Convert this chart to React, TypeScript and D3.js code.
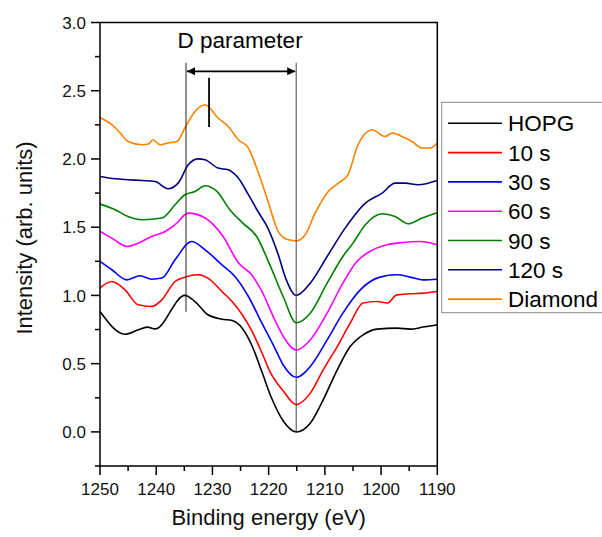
import React from "react";
import * as d3 from "d3";

const W = 602, H = 537;
const M = { left: 100, right: 437.3, top: 22.5, bottom: 466 };

const seriesNames = ["HOPG", "10 s", "30 s", "60 s", "90 s", "120 s", "Diamond"];
const seriesColors = ["#000000", "#ff0000", "#0000ff", "#ff00ff", "#008000", "#000080", "#ff8000"];

const hopgE = [1250, 1245.55, 1243.2, 1241.6, 1240.2, 1234.9, 1233.1, 1230.8, 1228.3, 1226.5, 1224.7, 1223.0, 1221.2, 1219.5, 1217.4, 1215.1, 1212.6, 1210.3, 1207.8, 1205.5, 1203.2, 1200.7, 1197.2, 1194.8, 1192.5, 1190];
const hopgV = [0.882, 0.716, 0.748, 0.768, 0.755, 1.0, 0.955, 0.858, 0.826, 0.816, 0.76, 0.635, 0.44, 0.25, 0.08, 0.0, 0.064, 0.235, 0.455, 0.625, 0.711, 0.753, 0.76, 0.753, 0.768, 0.784];

const s10E = [1250, 1247.9, 1245.55, 1243.2, 1240.8, 1239.0, 1236.65, 1234.9, 1232.6, 1230.8, 1228.3, 1226.5, 1224.7, 1223.0, 1221.2, 1219.75, 1217.4, 1215.1, 1212.6, 1210.3, 1207.8, 1205.5, 1203.2, 1200.7, 1198.9, 1197.2, 1194.8, 1192.5, 1190];
const s10V = [1.054, 1.102, 1.041, 0.931, 0.919, 0.968, 1.102, 1.134, 1.151, 1.127, 1.029, 0.955, 0.858, 0.74, 0.58, 0.44, 0.3, 0.2, 0.284, 0.455, 0.625, 0.797, 0.944, 0.955, 0.944, 1.004, 1.012, 1.017, 1.029];

const s30E = [1250, 1247.9, 1245.2, 1242.9, 1240.8, 1239.0, 1236.65, 1233.7, 1231.3, 1228.3, 1226.0, 1223.6, 1221.2, 1218.9, 1217.4, 1215.1, 1212.6, 1209.6, 1206.8, 1203.7, 1200.2, 1197.2, 1194.8, 1192.5, 1190];
const s30V = [1.249, 1.188, 1.114, 1.144, 1.119, 1.127, 1.261, 1.395, 1.334, 1.224, 1.139, 0.992, 0.797, 0.614, 0.49, 0.4, 0.479, 0.674, 0.87, 1.041, 1.134, 1.151, 1.134, 1.114, 1.119];

const s60E = [1250, 1247.9, 1245.2, 1243.2, 1240.8, 1238.4, 1236.65, 1234.3, 1231.3, 1228.1, 1225.4, 1223.0, 1221.2, 1218.9, 1217.4, 1215.1, 1212.6, 1209.6, 1206.8, 1204.3, 1202.0, 1198.9, 1196.1, 1193.1, 1190];
const s60V = [1.468, 1.42, 1.359, 1.383, 1.432, 1.468, 1.518, 1.603, 1.567, 1.432, 1.24, 1.15, 1.03, 0.82, 0.7, 0.6, 0.674, 0.87, 1.09, 1.249, 1.322, 1.371, 1.388, 1.395, 1.371];

const s90E = [1250, 1247.3, 1245.0, 1242.5, 1239.0, 1236.65, 1234.9, 1233.1, 1231.3, 1229.2, 1226.9, 1224.6, 1222.1, 1219.75, 1217.4, 1215.1, 1212.6, 1209.6, 1206.8, 1205.0, 1202.8, 1199.8, 1197.5, 1195.2, 1192.7, 1190];
const s90V = [1.669, 1.628, 1.578, 1.554, 1.567, 1.664, 1.738, 1.762, 1.804, 1.762, 1.628, 1.53, 1.43, 1.22, 0.99, 0.8, 0.87, 1.09, 1.285, 1.383, 1.518, 1.598, 1.578, 1.525, 1.567, 1.605];

const s120E = [1250, 1247.3, 1245.0, 1242.5, 1240.2, 1237.9, 1236.1, 1234.3, 1232.6, 1231.3, 1229.0, 1227.2, 1225.4, 1223.6, 1221.9, 1220.1, 1218.3, 1217.0, 1215.1, 1212.6, 1209.6, 1206.4, 1202.8, 1199.8, 1197.5, 1195.7, 1193.4, 1190];
const s120V = [1.872, 1.855, 1.848, 1.842, 1.835, 1.782, 1.823, 1.957, 2.001, 1.994, 1.933, 1.921, 1.86, 1.738, 1.615, 1.49, 1.3, 1.13, 1.0, 1.09, 1.285, 1.493, 1.677, 1.75, 1.823, 1.823, 1.811, 1.842];

const diaE = [1250, 1247.9, 1246.4, 1245.0, 1242.5, 1241.4, 1240.6, 1239.3, 1237.9, 1236.3, 1234.9, 1233.1, 1231.3, 1229.0, 1227.2, 1225.4, 1223.6, 1221.9, 1220.1, 1218.3, 1216.5, 1215.0, 1213.5, 1211.7, 1209.4, 1207.6, 1205.9, 1204.1, 1201.6, 1199.3, 1198.0, 1196.3, 1194.5, 1192.7, 1191.3, 1190];
const diaV = [2.304, 2.251, 2.19, 2.128, 2.104, 2.109, 2.141, 2.104, 2.117, 2.128, 2.227, 2.348, 2.397, 2.3, 2.238, 2.141, 2.08, 1.908, 1.688, 1.468, 1.408, 1.4, 1.444, 1.606, 1.762, 1.823, 1.884, 2.104, 2.214, 2.165, 2.19, 2.165, 2.128, 2.08, 2.08, 2.117];

const seriesE = [hopgE, s10E, s30E, s60E, s90E, s120E, diaE];
const seriesV = [hopgV, s10V, s30V, s60V, s90V, s120V, diaV];

const xMajorTicks = [1250, 1240, 1230, 1220, 1210, 1200, 1190];
const xMinorTicks = [1245, 1235, 1225, 1215, 1205, 1195];
const yMajorTicks = [0.0, 0.5, 1.0, 1.5, 2.0, 2.5, 3.0];
const yMinorTicks = [-0.25, 0.25, 0.75, 1.25, 1.75, 2.25, 2.75];

// annotation (data units)
const dLeftE = 1234.7, dRightE = 1215.1;
const dTopV = 2.705, dLeftBottomV = 0.88, dRightBottomV = 0.0;
const arrowV = 2.642;
const markE = 1230.6, markTopV = 2.595, markBottomV = 2.235;

export default function App() {
  const x = d3.scaleLinear().domain([1250, 1190]).range([M.left, M.right]);
  const y = d3.scaleLinear().domain([-0.25, 3.0]).range([M.bottom, M.top]);
  const line = d3.line<[number, number]>().x(d => x(d[0])).y(d => y(d[1])).curve(d3.curveMonotoneX);
  const font = "'Liberation Sans', Arial, sans-serif";
  const legY0 = 123.3, legDy = 29.3;
  const ay = y(arrowV);
  const xl = x(dLeftE), xr = x(dRightE);
  return (
    <svg width={W} height={H} style={{ position: "absolute", left: 0, top: 0, background: "#fff" }} fontFamily={font}>
      <defs>
        <marker id="ah" viewBox="0 0 10 10" refX="10" refY="5" markerWidth="6" markerHeight="5" orient="auto-start-reverse" markerUnits="strokeWidth">
          <path d="M0,0 L10,5 L0,10 z" fill="#000" />
        </marker>
      </defs>
      {seriesNames.map((n, i) => (
        <path key={n} d={line(seriesE[i].map((e, j) => [e, seriesV[i][j]]) as [number, number][]) || ""} fill="none" stroke={seriesColors[i]} strokeWidth={1.6} />
      ))}
      <line x1={xl} x2={xl} y1={y(dTopV)} y2={y(dLeftBottomV)} stroke="#222" strokeWidth={1} />
      <line x1={xr} x2={xr} y1={y(dTopV)} y2={y(dRightBottomV)} stroke="#444" strokeWidth={1} />
      <line x1={xl + 1} x2={xr - 1} y1={ay} y2={ay} stroke="#000" strokeWidth={1.6} markerStart="url(#ah)" markerEnd="url(#ah)" />
      <line x1={x(markE)} x2={x(markE)} y1={y(markTopV)} y2={y(markBottomV)} stroke="#000" strokeWidth={1.8} />
      <text x={(xl + xr) / 2 - 1} y={48} fontSize={22.5} textAnchor="middle" fill="#000">D parameter</text>
      <rect x={M.left} y={M.top} width={M.right - M.left} height={M.bottom - M.top} fill="none" stroke="#000" strokeWidth={1.5} />
      {xMajorTicks.map(t => (
        <g key={"xm" + t}>
          <line x1={x(t)} x2={x(t)} y1={M.bottom} y2={M.bottom + 9} stroke="#000" strokeWidth={1.5} />
          <text x={x(t)} y={495} fontSize={17} textAnchor="middle" fill="#111">{t}</text>
        </g>
      ))}
      {xMinorTicks.map(t => (
        <line key={"xn" + t} x1={x(t)} x2={x(t)} y1={M.bottom} y2={M.bottom + 5} stroke="#000" strokeWidth={1.5} />
      ))}
      {yMajorTicks.map(t => (
        <g key={"ym" + t}>
          <line x1={M.left - 9} x2={M.left} y1={y(t)} y2={y(t)} stroke="#000" strokeWidth={1.5} />
          <text x={86} y={y(t)} dy="0.36em" fontSize={17} textAnchor="end" fill="#111">{t.toFixed(1)}</text>
        </g>
      ))}
      {yMinorTicks.map(t => (
        <line key={"yn" + t} x1={M.left - 5} x2={M.left} y1={y(t)} y2={y(t)} stroke="#000" strokeWidth={1.5} />
      ))}
      <text x={(M.left + M.right) / 2} y={525} fontSize={22} textAnchor="middle" fill="#111">Binding energy (eV)</text>
      <text transform={`translate(24,${238}) rotate(-90)`} dy="0.35em" fontSize={22} textAnchor="middle" fill="#111">Intensity (arb. units)</text>
      <rect x={441.7} y={102.3} width={180} height={210.4} fill="#fff" stroke="#888" strokeWidth={1} />
      {seriesNames.map((n, i) => (
        <g key={"lg" + n}>
          <line x1={448} x2={502} y1={legY0 + i * legDy} y2={legY0 + i * legDy} stroke={seriesColors[i]} strokeWidth={1.6} />
          <text x={508} y={legY0 + i * legDy} dy="0.36em" fontSize={22.5} fill="#000">{n}</text>
        </g>
      ))}
    </svg>
  );
}
